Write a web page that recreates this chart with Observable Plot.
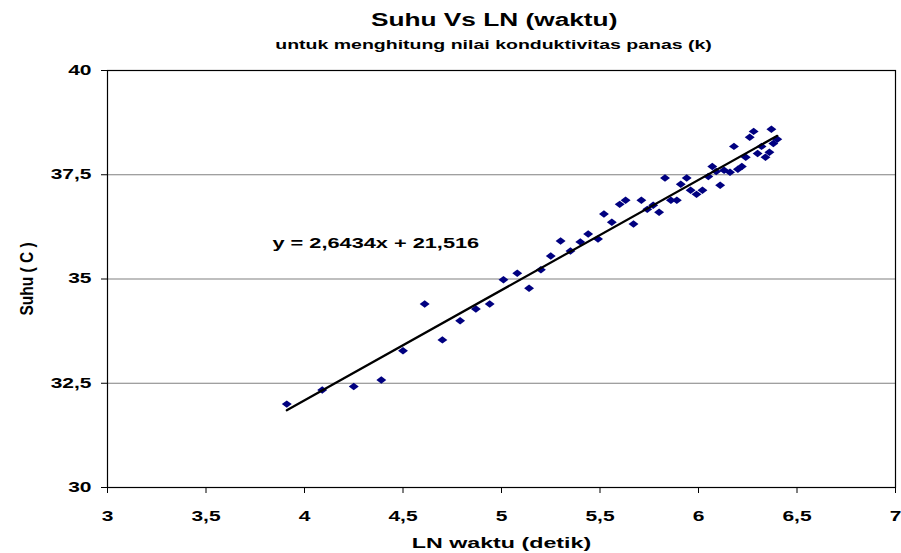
<!DOCTYPE html>
<html>
<head>
<meta charset="utf-8">
<script src="https://cdn.jsdelivr.net/npm/d3@7"></script>
<script src="https://cdn.jsdelivr.net/npm/@observablehq/plot@0.6"></script>
<style>
  html, body { margin: 0; padding: 0; background: #fff; }
  body { width: 901px; height: 553px; overflow: hidden; font-family: "Liberation Sans", Arial, sans-serif; }
  #head { position: relative; height: 55px; width: 901px; }
  .ht { position: absolute; left: 100px; width: 788px; text-align: center; font-weight: bold; color: #000; }
  .ht span { display: inline-block; transform: scaleX(1.5); transform-origin: center; white-space: nowrap; }
  #title { top: 10px; font-size: 17.5px; }
  #subtitle { top: 37px; font-size: 13px; }
</style>
</head>
<body>
<div id="head">
  <div id="title" class="ht"><span>Suhu Vs LN (waktu)</span></div>
  <div id="subtitle" class="ht"><span>untuk menghitung nilai konduktivitas panas (k)</span></div>
</div>
<div id="chart"></div>
<script>
const lnWaktu = [3.91, 4.09, 4.25, 4.39, 4.50, 4.61, 4.70, 4.79, 4.87, 4.94,
  5.01, 5.08, 5.14, 5.20, 5.25, 5.30, 5.35, 5.40, 5.44, 5.49,
  5.52, 5.56, 5.60, 5.63, 5.67, 5.71, 5.74, 5.77, 5.80, 5.83,
  5.86, 5.89, 5.91, 5.94, 5.96, 5.99, 6.02, 6.05, 6.07, 6.09,
  6.11, 6.13, 6.16, 6.18, 6.20, 6.22, 6.24, 6.26, 6.28, 6.30,
  6.32, 6.34, 6.36, 6.37, 6.38, 6.40];
const suhu = [32.0, 32.34, 32.42, 32.58, 33.28, 34.40, 33.54, 34.0, 34.28, 34.40,
  34.98, 35.14, 34.78, 35.22, 35.55, 35.91, 35.67, 35.89, 36.08, 35.96,
  36.56, 36.36, 36.79, 36.89, 36.32, 36.89, 36.67, 36.77, 36.60, 37.42,
  36.89, 36.89, 37.27, 37.42, 37.13, 37.03, 37.13, 37.46, 37.70, 37.58,
  37.25, 37.61, 37.56, 38.18, 37.63, 37.70, 37.92, 38.40, 38.54, 38.01,
  38.18, 37.92, 38.04, 38.59, 38.25, 38.35];
const slope = 2.6434;
const intercept = 21.516;
const xTicks = [3, 3.5, 4, 4.5, 5, 5.5, 6, 6.5, 7];
const yTicks = [30, 32.5, 35, 37.5, 40];
const gridY = [32.5, 35, 37.5];
const equationLabel = "y = 2,6434x + 21,516";

const points = lnWaktu.map((x, i) => ({x, y: suhu[i]}));
const xMin = d3.min(lnWaktu), xMax = d3.max(lnWaktu);
const trend = [xMin, xMax].map(x => ({x, y: slope * x + intercept}));
const fmt = d => String(d).replace(".", ",");

// wide diamond marker (Excel style)
const wideDiamond = {
  draw(context, size) {
    const w = Math.sqrt(size) * 0.7, h = w * 0.75;
    context.moveTo(0, -h);
    context.lineTo(w, 0);
    context.lineTo(0, h);
    context.lineTo(-w, 0);
    context.closePath();
  }
};

const chart = Plot.plot({
  width: 901,
  height: 498,
  marginLeft: 107,
  marginRight: 6,
  marginTop: 15,
  marginBottom: 66,
  style: {fontFamily: "'Liberation Sans', Arial, sans-serif", background: "#fff", color: "#000"},
  x: {domain: [3, 7]},
  y: {domain: [30, 40]},
  marks: [
    Plot.ruleY(gridY, {stroke: "#808080", strokeWidth: 1.2}),
    Plot.frame({stroke: "#000", strokeWidth: 1.2}),
    Plot.axisX({ticks: xTicks, tickFormat: fmt, tickSize: 6, tickPadding: 18, fontSize: 14, fontWeight: "bold", stroke: "#000",
      label: "LN waktu (detik)", labelAnchor: "center", labelArrow: "none", labelOffset: 60}),
    Plot.axisY({ticks: yTicks, tickFormat: fmt, tickSize: 6, tickPadding: 10, fontSize: 14, fontWeight: "bold", stroke: "#000",
      label: "Suhu ( C )", labelAnchor: "center", labelArrow: "none", labelOffset: 88}),
    Plot.dot(points, {x: "x", y: "y", symbol: wideDiamond, r: 4, fill: "#000080", stroke: "none"}),
    Plot.line(trend, {x: "x", y: "y", stroke: "#000", strokeWidth: 2.2}),
    Plot.text([equationLabel], {frameAnchor: "top-left", dx: 165, dy: 167, text: d => d, textAnchor: "start",
      fontSize: 14.5, fontWeight: "bold", fill: "#000"})
  ]
});
// axis labels bold
chart.querySelectorAll("[aria-label='x-axis label'] text, [aria-label='y-axis label'] text").forEach(t => {
  t.setAttribute("font-weight", "bold");
  t.setAttribute("font-size", "15.5");
});
// horizontally stretched lettering, as in the reference
const num = /^-?[\d.]+$/;
chart.querySelectorAll("text").forEach(t => {
  let tr = t.getAttribute("transform") || "";
  const x = t.getAttribute("x"), y = t.getAttribute("y");
  const xn = x !== null && num.test(x), yn = y !== null && num.test(y);
  if (xn || yn) {
    tr += ` translate(${xn ? x : 0},${yn ? y : 0})`;
    if (xn) t.removeAttribute("x");
    if (yn) t.removeAttribute("y");
  }
  tr += /rotate/.test(tr) ? " scale(1,1.2)" : " scale(1.5,1)";
  t.setAttribute("transform", tr.trim());
});
document.getElementById("chart").appendChild(chart);
</script>
</body>
</html>
